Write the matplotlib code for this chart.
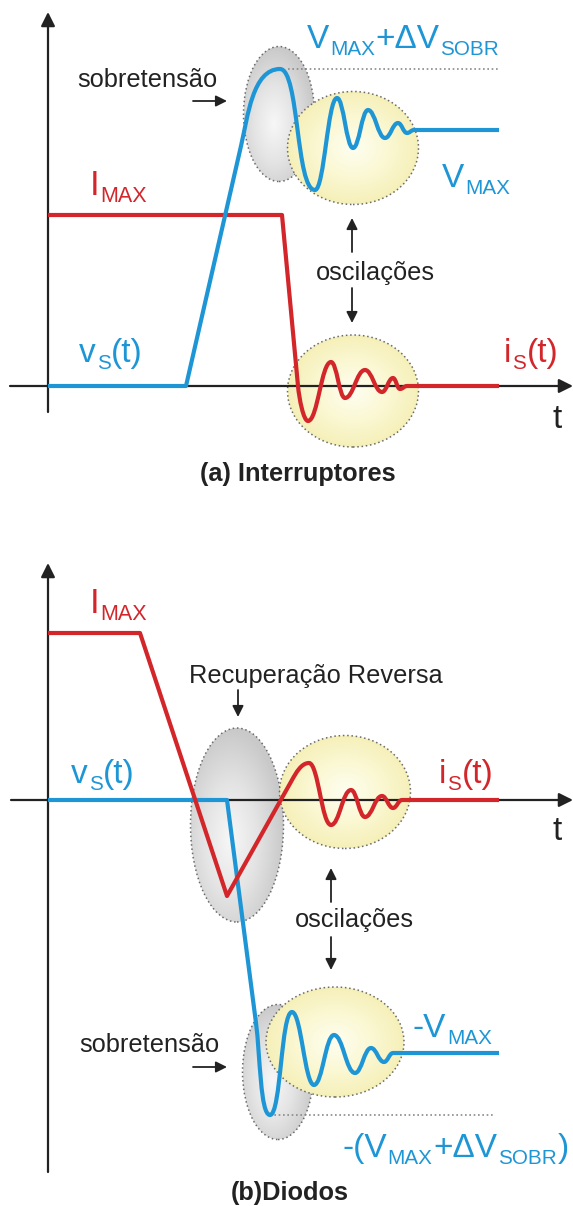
import matplotlib
matplotlib.use('Agg')
import matplotlib.pyplot as plt
import numpy as np
from matplotlib.path import Path
from matplotlib.patches import PathPatch, Ellipse
from matplotlib.colors import LinearSegmentedColormap
from matplotlib.transforms import ScaledTranslation

plt.rcParams['font.family'] = ['Liberation Sans', 'DejaVu Sans']

BLUE = '#1e96d6'
RED = '#d3262b'
INK = '#222222'

# ---------------- data : panel (a) Interruptores ----------------
a_i_line_t = [0, 234, 250]
a_i_line_v = [171, 171, 0]
a_i_osc_t = [260, 283, 297, 317, 334, 345, 352, 359]
a_i_osc_v = [-35, 24, -12, 16, -6, 8, -3, 0]
a_i_end_t = 451

a_v_line_t = [0, 138, 193]
a_v_line_v = [0, 0, 240]
a_v_osc_t = [232, 267, 289, 305, 320, 337, 350, 359, 366]
a_v_osc_v = [317, 196, 288, 238, 276, 248, 263, 253, 256]
a_v_end_t = 451

# ---------------- data : panel (b) Diodos ----------------
b_i_line_t = [0, 92, 179, 244]
b_i_line_v = [167, 167, -96, 20]
b_i_osc_t = [261, 283, 303, 317, 334, 345, 354]
b_i_osc_v = [37, -25, 10, -17, 4, -8, 0]
b_i_end_t = 451

b_v_line_t = [0, 179, 208]
b_v_line_v = [0, 0, -223]
b_v_osc_t = [222, 244, 266, 286, 307, 323, 336, 345]
b_v_osc_v = [-315, -212, -285, -235, -273, -248, -262, -253]
b_v_end_t = 451

fig = plt.figure(figsize=(5.73, 12.06), dpi=100)
axA = fig.add_axes([0, 1 - 500 / 1206, 1, 500 / 1206])
axB = fig.add_axes([0, 0, 1, 686 / 1206])
for ax in (axA, axB):
    ax.set_axis_off()

renderer = fig.canvas.get_renderer()


def build_path(line_t, line_v, osc_t, osc_v, end_t, knee2=0.45, first_k=0.42):
    verts = [(line_t[0], line_v[0])]
    codes = [Path.MOVETO]
    for t, v in zip(line_t[1:], line_v[1:]):
        verts.append((t, v))
        codes.append(Path.LINETO)
    p0 = np.array([line_t[-1], line_v[-1]], float)
    pp = np.array([line_t[-2], line_v[-2]], float)
    d = (p0 - pp) / np.hypot(*(p0 - pp))
    e = np.array([osc_t[0], osc_v[0]], float)
    dist = np.hypot(*(e - p0))
    c1 = p0 + d * dist * 0.35
    c2 = e - np.array([(e[0] - p0[0]) * knee2, 0])
    verts += [tuple(c1), tuple(c2), tuple(e)]
    codes += [Path.CURVE4] * 3
    for i in range(1, len(osc_t)):
        x0, y0, x1, y1 = osc_t[i - 1], osc_v[i - 1], osc_t[i], osc_v[i]
        k = (first_k if i == 1 else 0.42) * (x1 - x0)
        verts += [(x0 + k, y0), (x1 - k, y1), (x1, y1)]
        codes += [Path.CURVE4] * 3
    verts.append((end_t, osc_v[-1]))
    codes.append(Path.LINETO)
    return Path(verts, codes)


grey_cmap = LinearSegmentedColormap.from_list('g', ['#f7f7f7', '#e4e4e4', '#c9c9c9'])
yel_cmap = LinearSegmentedColormap.from_list('y', ['#fefef0', '#fbf8d4', '#f5efb6'])


def blob(ax, cx, cy, w, h, kind, z):
    e = Ellipse((cx, cy), w, h, facecolor='none', edgecolor='#6a6a6a', lw=1.1,
                linestyle=(0, (1, 1.8)), zorder=z + 0.5)
    ax.add_patch(e)
    n = 200
    xs = np.linspace(-1, 1, n)
    X, Y = np.meshgrid(xs, xs)
    if kind == 'grey':
        R = np.clip(np.hypot(X + 0.15, Y + 0.15) / 1.15, 0, 1)
        cm = grey_cmap
    else:
        R = np.clip(np.hypot(X, Y) / 1.05, 0, 1)
        cm = yel_cmap
    im = ax.imshow(R, extent=[cx - w / 2, cx + w / 2, cy - h / 2, cy + h / 2], origin='lower',
                   cmap=cm, vmin=0, vmax=1, zorder=z, aspect='auto', interpolation='bilinear')
    im.set_clip_path(e)


SUB = 0.62


def rich(ax, x, y, parts, color, fs, ha='left'):
    widths = []
    for s, sub in parts:
        t = ax.text(0, 0, s, fontsize=fs * SUB if sub else fs)
        widths.append(t.get_window_extent(renderer).width + 0.8)
        t.remove()
    total = sum(widths)
    off = -total / 2 if ha == 'center' else 0.0
    for (s, sub), w in zip(parts, widths):
        size = fs * SUB if sub else fs
        dy = -0.2 * fs / 72 if sub else 0.0
        tr = ax.transData + ScaledTranslation(off / 100, dy, fig.dpi_scale_trans)
        ax.text(x, y, s, fontsize=size, color=color, ha='left', va='baseline',
                transform=tr, zorder=10)
        off += w


def axis_arrow(ax, start, end):
    ax.annotate('', xy=end, xytext=start,
                arrowprops=dict(arrowstyle='-|>,head_length=0.6,head_width=0.3', color=INK,
                                lw=1.6, shrinkA=0, shrinkB=0, mutation_scale=14), zorder=3)


def small_arrow(ax, start, end):
    ax.annotate('', xy=end, xytext=start,
                arrowprops=dict(arrowstyle='-|>,head_length=0.6,head_width=0.3', color=INK,
                                lw=1.3, shrinkA=0, shrinkB=0, mutation_scale=11), zorder=6)


FS_BIG = 24
FS_TXT = 18.3

# ---------------- panel (a) ----------------
ax = axA
blob(ax, 231, 272, 71, 135, 'grey', 1)
blob(ax, 305, 238, 131, 113, 'yellow', 2)
blob(ax, 305, -5, 131, 112, 'yellow', 2)
axis_arrow(ax, (0, -26), (0, 374))
axis_arrow(ax, (-38, 0), (525, 0))
ax.plot([240, 451], [a_v_osc_v[0], a_v_osc_v[0]], color='#8a8a8a', lw=1.2,
        linestyle=(0, (1, 1.6)), zorder=3)
ax.add_patch(PathPatch(build_path(a_i_line_t, a_i_line_v, a_i_osc_t, a_i_osc_v, a_i_end_t),
                       facecolor='none', edgecolor=RED, lw=3, zorder=4, joinstyle='round'))
ax.add_patch(PathPatch(build_path(a_v_line_t, a_v_line_v, a_v_osc_t, a_v_osc_v, a_v_end_t,
                                  knee2=0.7, first_k=0.55),
                       facecolor='none', edgecolor=BLUE, lw=3, zorder=5, joinstyle='round'))
rich(ax, 259, 338, [('V', 0), ('MAX', 1), ('+\u0394V', 0), ('SOBR', 1)], BLUE, FS_BIG)
rich(ax, 394, 199, [('V', 0), ('MAX', 1)], BLUE, FS_BIG)
rich(ax, 42, 191, [('I', 0), ('MAX', 1)], RED, FS_BIG + 1)
rich(ax, 31, 24, [('v', 0), ('S', 1), ('(t)', 0)], BLUE, FS_BIG)
rich(ax, 456, 24, [('i', 0), ('S', 1), ('(t)', 0)], RED, FS_BIG)
ax.text(509, -42, 't', fontsize=FS_BIG, color=INK, ha='center', va='baseline')
ax.text(29, 299, 'sobretensão', fontsize=FS_TXT, color=INK, ha='left', va='baseline')
small_arrow(ax, (145, 285), (179, 285))
ax.text(327, 106, 'oscilações', fontsize=FS_TXT, color=INK, ha='center', va='baseline')
small_arrow(ax, (304, 134), (304, 168))
small_arrow(ax, (304, 98), (304, 63))
ax.text(250, -95, '(a) Interruptores', fontsize=FS_TXT, fontweight='bold', color=INK,
        ha='center', va='baseline')
ax.set_xlim(-48, 525)
ax.set_ylim(-114, 386)

# ---------------- panel (b) ----------------
ax = axB
blob(ax, 189, -25, 93, 194, 'grey', 1)
blob(ax, 297, 8, 131, 113, 'yellow', 2)
blob(ax, 230, -272, 71, 135, 'grey', 1)
blob(ax, 287, -242, 138, 110, 'yellow', 2)
axis_arrow(ax, (0, -372), (0, 237))
axis_arrow(ax, (-37, 0), (525, 0))
ax.plot([222, 447], [b_v_osc_v[0], b_v_osc_v[0]], color='#8a8a8a', lw=1.2,
        linestyle=(0, (1, 1.6)), zorder=3)
ax.add_patch(PathPatch(build_path(b_v_line_t, b_v_line_v, b_v_osc_t, b_v_osc_v, b_v_end_t,
                                  knee2=0.7, first_k=0.5),
                       facecolor='none', edgecolor=BLUE, lw=3, zorder=4, joinstyle='round'))
ax.add_patch(PathPatch(build_path(b_i_line_t, b_i_line_v, b_i_osc_t, b_i_osc_v, b_i_end_t),
                       facecolor='none', edgecolor=RED, lw=3, zorder=5, joinstyle='round'))
rich(ax, 42, 187, [('I', 0), ('MAX', 1)], RED, FS_BIG + 1)
ax.text(268, 117, 'Recuperação Reversa', fontsize=FS_TXT, color=INK, ha='center', va='baseline')
small_arrow(ax, (190, 110), (190, 83))
rich(ax, 23, 17, [('v', 0), ('S', 1), ('(t)', 0)], BLUE, FS_BIG)
rich(ax, 391, 17, [('i', 0), ('S', 1), ('(t)', 0)], RED, FS_BIG)
ax.text(509, -40, 't', fontsize=FS_BIG, color=INK, ha='center', va='baseline')
ax.text(306, -127, 'oscilações', fontsize=FS_TXT, color=INK, ha='center', va='baseline')
small_arrow(ax, (283, -102), (283, -68))
small_arrow(ax, (283, -137), (283, -170))
rich(ax, 365, -237, [('-V', 0), ('MAX', 1)], BLUE, FS_BIG)
ax.text(31, -252, 'sobretensão', fontsize=FS_TXT, color=INK, ha='left', va='baseline')
small_arrow(ax, (145, -267), (179, -267))
rich(ax, 294, -357, [('-(V', 0), ('MAX', 1), ('+\u0394V', 0), ('SOBR', 1), (')', 0)], BLUE, FS_BIG)
ax.text(242, -400, '(b)Diodos', fontsize=FS_TXT, fontweight='bold', color=INK,
        ha='center', va='baseline')
ax.set_xlim(-48, 525)
ax.set_ylim(-406, 280)

fig.savefig('out.png', dpi=100, facecolor='white')
